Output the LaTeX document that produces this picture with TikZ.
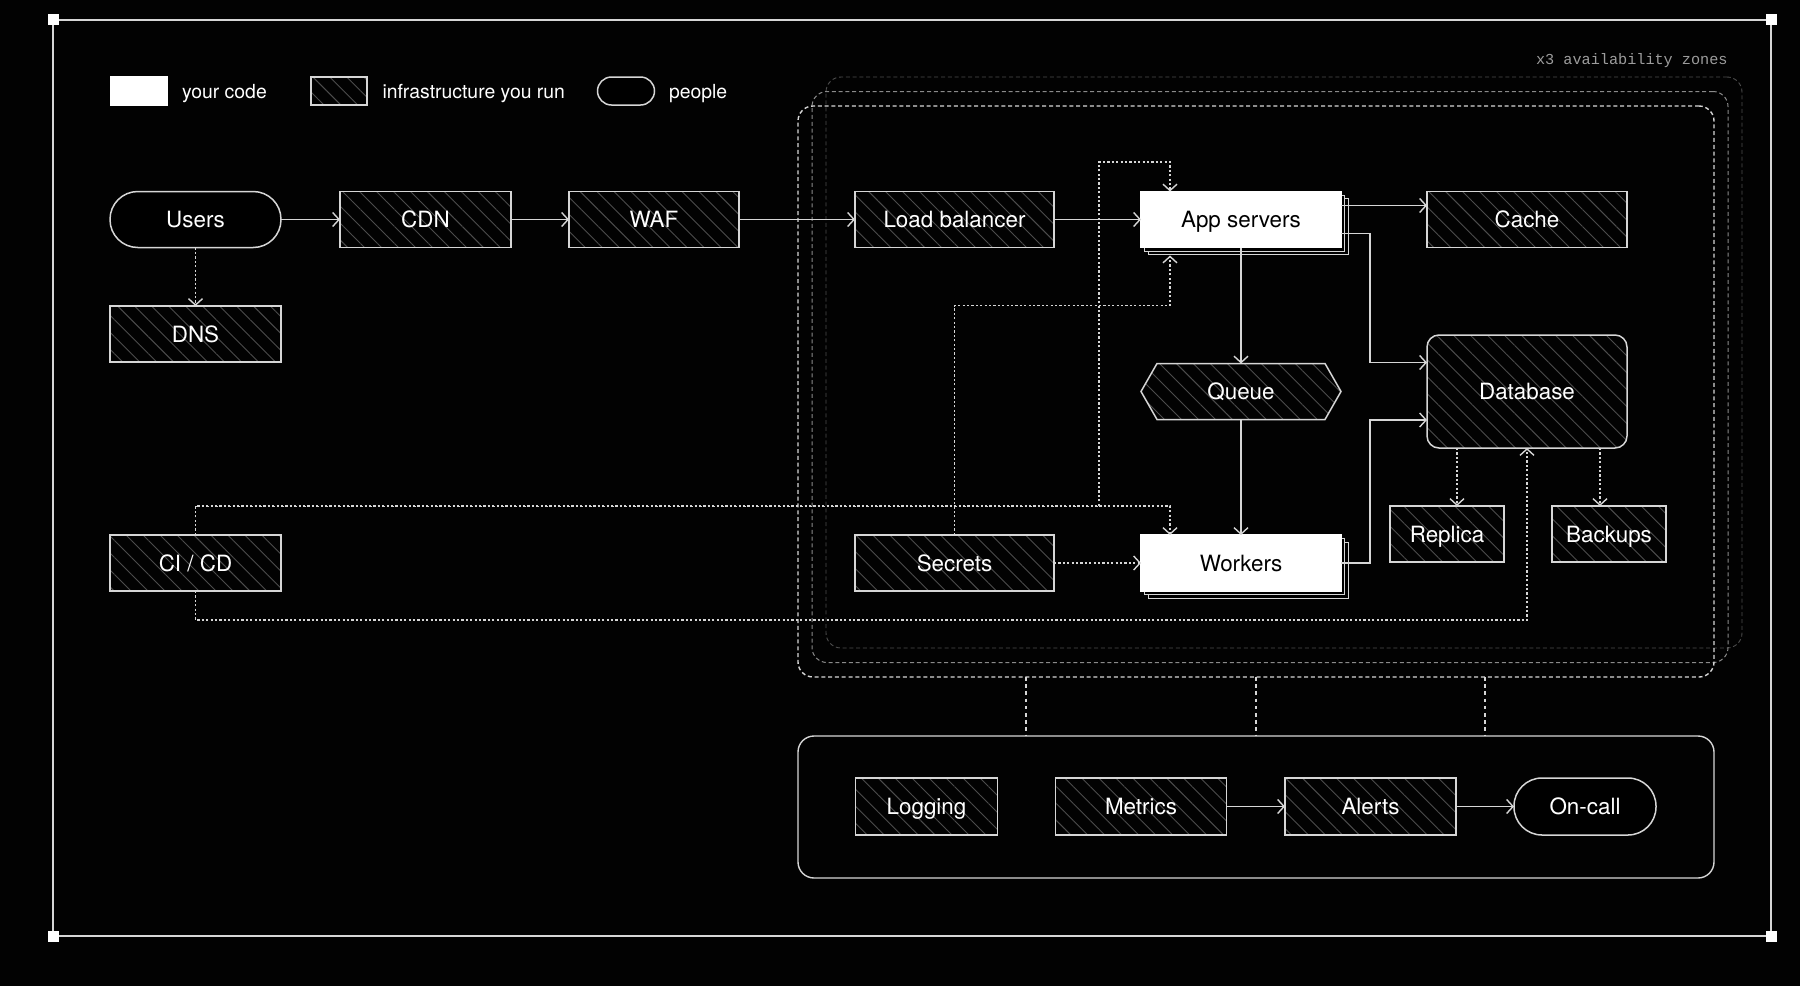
\documentclass[tikz,border=0pt]{standalone}
\usepackage{fontspec}
\setmainfont{TeX Gyre Heros}
\newfontfamily\monof{Liberation Mono}
\usetikzlibrary{arrows.meta,patterns.meta,calc,shadows}
\definecolor{lc}{HTML}{D6D6D6}
\definecolor{hatch}{HTML}{4C4C4C}
\definecolor{azb}{HTML}{8A8A8A}
\definecolor{azc}{HTML}{4E4E4E}
\definecolor{monoc}{HTML}{9C9C9C}
\definecolor{bgc}{HTML}{020202}
\pgfdeclarelayer{bg}
\pgfdeclarelayer{mid}
\pgfsetlayers{bg,mid,main}
\newcommand\boxfont{\fontsize{11.2}{13.4}\selectfont}
\newcommand\legfont{\fontsize{9.7}{11.6}\selectfont}
\begin{document}
\begin{tikzpicture}[x=0.5pt,y=-0.5pt,
  basebox/.style={rectangle, inner sep=0pt, outer sep=0pt, line width=0.75pt, font=\boxfont,
    text height=8.1pt, text depth=0pt},
  infra/.style={basebox, draw=lc, text=white,
    pattern={Lines[angle=-45,distance=6pt,line width=0.45pt]}, pattern color=hatch},
  infrapath/.style={draw=lc, line width=0.75pt,
    pattern={Lines[angle=-45,distance=6pt,line width=0.45pt]}, pattern color=hatch},
  codebox/.style={basebox, draw=white, fill=white, text=black,
    copy shadow={shadow xshift=3.5pt, shadow yshift=-3.5pt, fill=black, draw=lc, line width=0.5pt},
    copy shadow={shadow xshift=1.75pt, shadow yshift=-1.75pt, fill=black, draw=lc, line width=0.5pt}},
  legcode/.style={basebox, draw=white, fill=white},
  people/.style={basebox, draw=lc, fill=black, text=white},
  legtext/.style={inner sep=0pt, outer sep=0pt, anchor=west, text=white, font=\legfont,
    text height=7pt, text depth=0pt},
  lbl/.style={inner sep=0pt, outer sep=0pt, text=white, font=\boxfont, text height=8.1pt, text depth=0pt},
  azbox/.style={rectangle, inner sep=0pt, outer sep=0pt, rounded corners=7.5pt,
    line width=0.6pt, dash pattern=on 2pt off 1.4pt,
    minimum width=458pt, minimum height=285.5pt},
  arr/.style={draw=lc, line width=0.7pt, -{Straight Barb[length=3.2pt,width=7pt]}},
  dotarr/.style={arr, dash pattern=on 1.1pt off 1.1pt},
  dashline/.style={draw=lc, line width=0.6pt, dash pattern=on 1.8pt off 1.8pt}
]
\begin{pgfonlayer}{bg}
\fill[bgc] (0,0) rectangle (1800,986);
\end{pgfonlayer}
\useasboundingbox (0,0) rectangle (1800,986);

% outer frame
\draw[lc, line width=1pt] (53,19.5) rectangle (1771,936);
\foreach \px/\py in {53/19.5, 1771/19.5, 53/936, 1771/936}
  \fill[white] (\px-5.5,\py-5.5) rectangle (\px+5.5,\py+5.5);

% legend
\node[legcode, minimum width=28pt, minimum height=14pt] (lgcode) at (139,91) {};
\node[legtext] (lgcodet) at (182,91) {your code};
\node[infra, minimum width=28pt, minimum height=14pt] (lginfra) at (339,91) {};
\node[legtext] (lginfrat) at (382.5,91) {infrastructure you run};
\node[people, rounded corners=7pt, minimum width=28.5pt, minimum height=14pt] (lgpeople) at (626,91) {};
\node[legtext] (lgpeoplet) at (669,91) {people};

% availability zones
\node[anchor=east, inner sep=0pt, text=monoc, font=\monof\fontsize{7.6}{9}\selectfont] (azlbl) at (1728,61) {x3 availability zones};
\node[azbox, draw=azc, line width=0.45pt] (az3) at (1284,362.5) {};
\node[azbox, draw=azb, line width=0.5pt] (az2) at (1270,377) {};
\node[azbox, draw=lc, line width=0.7pt] (az) at (1256,391.5) {};

% monitoring group
\node[basebox, draw=lc, line width=0.7pt, rounded corners=8pt, minimum width=458pt, minimum height=71pt] (mon) at (1256,807) {};
\foreach \dx in {228,458,687}
  \draw[dashline] ($(az.south west)+(\dx,0)$) -- ($(mon.north west)+(\dx,0)$);

% nodes
\node[people, rounded corners=13.9pt, minimum width=85.5pt, minimum height=28pt] (users) at (195.5,219.5) {Users};
\node[infra, minimum width=85.5pt, minimum height=28pt] (cdn) at (425.5,219.5) {CDN};
\node[infra, minimum width=85pt, minimum height=28pt] (waf) at (654,219.5) {WAF};
\node[infra, minimum width=99.5pt, minimum height=28pt] (lb) at (954.5,219.5) {Load balancer};
\node[codebox, minimum width=100pt, minimum height=28pt] (app) at (1241,219.5) {App servers};
\node[infra, minimum width=100pt, minimum height=28pt] (cache) at (1527,219.5) {Cache};
\node[infra, minimum width=85.5pt, minimum height=28pt] (dns) at (195.5,334) {DNS};
\node[lbl, minimum width=100pt, minimum height=28pt] (queue) at (1241,391.5) {Queue};
\begin{pgfonlayer}{mid}
\draw[infrapath] (queue.west) -- ($(queue.north west)+(16,0)$) -- ($(queue.north east)+(-16,0)$)
  -- (queue.east) -- ($(queue.south east)+(-16,0)$) -- ($(queue.south west)+(16,0)$) -- cycle;
\end{pgfonlayer}
\node[infra, rounded corners=6pt, minimum width=100pt, minimum height=56.5pt] (db) at (1527,391.5) {Database};
\node[infra, minimum width=57pt, minimum height=28pt] (replica) at (1447,534) {Replica};
\node[infra, minimum width=57pt, minimum height=28pt] (backups) at (1609,534) {Backups};
\node[infra, minimum width=85.5pt, minimum height=28pt] (cicd) at (195.5,563) {CI / CD};
\node[infra, minimum width=99.5pt, minimum height=28pt] (secrets) at (954.5,563) {Secrets};
\node[codebox, minimum width=100pt, minimum height=28pt] (workers) at (1241,563) {Workers};
\node[infra, minimum width=71pt, minimum height=28.5pt] (logging) at (926.5,806.5) {Logging};
\node[infra, minimum width=85.5pt, minimum height=28.5pt] (metrics) at (1141,806.5) {Metrics};
\node[infra, minimum width=85.5pt, minimum height=28.5pt] (alerts) at (1370.5,806.5) {Alerts};
\node[people, rounded corners=14pt, minimum width=71pt, minimum height=28.5pt] (oncall) at (1585,806.5) {On-call};

% main flow
\draw[arr] (users.east) -- (cdn.west);
\draw[arr] (cdn.east) -- (waf.west);
\draw[arr] (waf.east) -- (lb.west);
\draw[arr] (lb.east) -- (app.west);
\draw[dotarr] (users.south) -- (dns.north);
\draw[arr] ($(app.north east)+(0,14)$) -- ($(cache.north west)+(0,14)$);
\draw[arr] ($(app.north east)+(0,42)$) -- ++(29,0) |- ($(db.west)+(0,-29)$);
\draw[arr] (workers.east) -- ++(29,0) |- ($(db.west)+(0,28.5)$);
\draw[arr] (app.south) -- (queue.north);
\draw[arr] (queue.south) -- (workers.north);

% secrets / deploy
\draw[dotarr] (secrets.east) -- (workers.west);
\draw[dotarr] (secrets.north) |- ($(app.south west)+(29,58)$) -- ($(app.south west)+(29,8)$);
\draw[dotarr] (cicd.north) |- ($(workers.north west)+(29,-29)$) -- ($(workers.north west)+(29,0)$);
\draw[dotarr] (cicd.north) |- ($(app.north west)+(-42,315)$) -- ($(app.north west)+(-42,-29.5)$)
  -- ($(app.north west)+(29,-29.5)$) -- ($(app.north west)+(29,0)$);
\draw[dotarr] (cicd.south) |- ($(db.south)+(0,172)$) -- (db.south);

% database replicas
\coordinate (dbr) at ($(db.south west)+(30,0)$);
\coordinate (dbb) at ($(db.south east)+(-27,0)$);
\draw[dotarr] (dbr) -- (dbr |- replica.north);
\draw[dotarr] (dbb) -- (dbb |- backups.north);

% monitoring flow
\draw[arr] (metrics.east) -- (alerts.west);
\draw[arr] (alerts.east) -- (oncall.west);
\end{tikzpicture}
\end{document}
